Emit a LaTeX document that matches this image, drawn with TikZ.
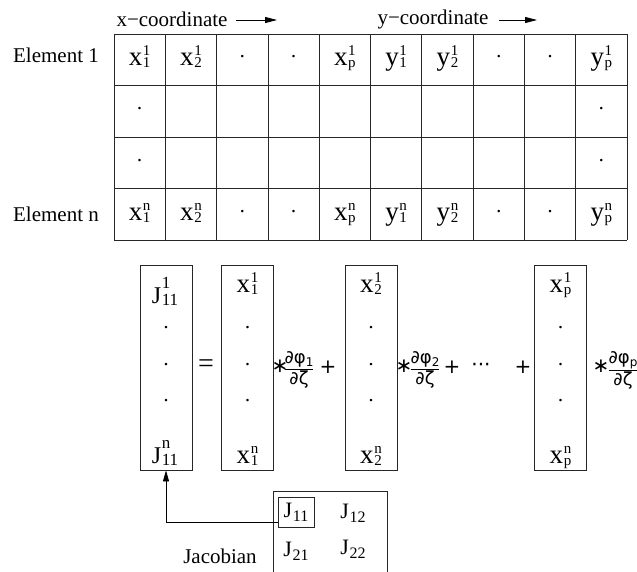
\documentclass[tikz,border=0pt]{standalone}
\usepackage{fontspec}
\setmainfont{Liberation Serif}
\newfontfamily\dejavu{DejaVu Sans}
\usetikzlibrary{arrows.meta,calc}
% #1 base size, #2 letter, #3 sup, #4 sub, #5 sup raise, #6 sub raise, #7 script size
\newcommand\entq[7]{\hbox{\fontsize{#1}{#1}\selectfont #2\kern0.6pt\fontsize{#7}{#7}\selectfont\ooalign{\raisebox{#5}{#3}\cr\raisebox{#6}{#4}\cr}}}
\newcommand\xe[3]{\entq{27}{#1}{#2}{#3}{10pt}{-2pt}{15}}
\newcommand\pfracq[1]{$\displaystyle\frac{\hbox{\dejavu\fontsize{18}{18}\selectfont ∂φ\raisebox{-0.3ex}{\fontsize{12}{12}\selectfont #1}}}{\hbox{\dejavu\fontsize{18}{18}\selectfont ∂ζ}}$}
\begin{document}
\begin{tikzpicture}[x=1pt,y=-1pt,
  lbl/.style={font=\fontsize{21}{25}\selectfont, inner sep=0pt},
  ent/.style={inner sep=0pt, anchor=base},
  dotq/.style={font=\fontsize{21}{25}\selectfont, inner sep=0pt},
  op/.style={font=\dejavu\fontsize{20}{24}\selectfont, inner sep=0pt},
  gridline/.style={draw=black!85, line width=0.8pt},
  colbox/.style={draw=black!85, line width=0.8pt, minimum width=52pt, minimum height=205pt, inner sep=0pt},
  headarrow/.style={line width=0.8pt, -{Triangle[length=12pt,width=6pt]}},
  conn/.style={line width=0.8pt, -{Triangle[length=11pt,width=6pt]}}
]
\useasboundingbox (0,0) rectangle (637,572);

% header
\node[lbl] (xlab) at (172,19) {x−coordinate};
\coordinate (xa1) at (236,20);
\coordinate (xa2) at (277,20);
\draw[headarrow] (xa1) -- (xa2);
\node[lbl] (ylab) at (433,19) {y−coordinate};
\coordinate (ya1) at (499,20);
\coordinate (ya2) at (537,20);
\draw[headarrow] (ya1) -- (ya2);

\node[lbl] (el1) at (56,55) {Element 1};
\node[lbl] (eln) at (56,214) {Element n};

% table grid
\foreach \i in {0,...,10} \draw[gridline] ({114+51.3*\i},34) -- ({114+51.3*\i},240.4);
\foreach \j in {0,...,4} \draw[gridline] (114,{34+51.6*\j}) -- (627,{34+51.6*\j});

% table entries
\foreach \c/\t in {1/{\xe{x}{1}{1}},2/{\xe{x}{1}{2}},5/{\xe{x}{1}{p}},6/{\xe{y}{1}{1}},7/{\xe{y}{1}{2}},10/{\xe{y}{1}{p}}}
  \node[ent] (ra\c) at ({114+51.3*(\c-0.5)},66) {\t};
\foreach \c/\t in {1/{\xe{x}{n}{1}},2/{\xe{x}{n}{2}},5/{\xe{x}{n}{p}},6/{\xe{y}{n}{1}},7/{\xe{y}{n}{2}},10/{\xe{y}{n}{p}}}
  \node[ent] (rd\c) at ({114+51.3*(\c-0.5)},220.5) {\t};
\foreach \c in {3,4,8,9} {
  \node[dotq] (ra\c) at ({114+51.3*(\c-0.5)},59.8) {·};
  \node[dotq] (rd\c) at ({114+51.3*(\c-0.5)},214.6) {·};
}
\foreach \c in {1,10} {
  \node[dotq] (rb\c) at ({114+51.3*(\c-0.5)},111.4) {·};
  \node[dotq] (rc\c) at ({114+51.3*(\c-0.5)},163) {·};
}

% column vectors
\foreach \n/\x in {J/166, A/247.5, B/371, P/560.5}{
  \node[colbox] (col\n) at (\x,367.5) {};
  \node[dotq] (d1\n) at (\x,330) {·};
  \node[dotq] (d2\n) at (\x,367) {·};
  \node[dotq] (d3\n) at (\x,403) {·};
}
\node[ent] (tJ) at (165,303) {\entq{24}{J}{1}{11}{15pt}{-2pt}{17}};
\node[ent] (bJ) at (165,463) {\entq{24}{J}{n}{11}{15pt}{-2pt}{17}};
\node[ent] (tA) at (247.5,292) {\xe{x}{1}{1}};
\node[ent] (bA) at (247.5,463) {\xe{x}{n}{1}};
\node[ent] (tB) at (371,292) {\xe{x}{1}{2}};
\node[ent] (bB) at (371,463) {\xe{x}{n}{2}};
\node[ent] (tP) at (560.5,292) {\xe{x}{1}{p}};
\node[ent] (bP) at (560.5,463) {\xe{x}{n}{p}};

% operators
\node[inner sep=0pt, font=\fontsize{28}{30}\selectfont] (eq) at (206,366) {=};
\node[op] (s1) at (280,366) {∗};
\node[inner sep=0pt] (f1) at (299,370) {\pfracq{1}};
\node[op] (p1) at (328,367) {+};
\node[op] (s2) at (404,366) {∗};
\node[inner sep=0pt] (f2) at (425,370) {\pfracq{2}};
\node[op] (p2) at (452,367) {+};
\node[op] (dd) at (481,367) {···};
\node[op] (p3) at (523,367) {+};
\node[op] (s3) at (601,366) {∗};
\node[inner sep=0pt] (f3) at (623,370) {\pfracq{p}};

% Jacobian
\coordinate (jbl) at (273,572);
\coordinate (jtl) at (273,491);
\coordinate (jtr) at (387,491);
\coordinate (jbr) at (387,572);
\draw[gridline] (jbl) -- (jtl) -- (jtr) -- (jbr);
\node[draw=black!85, line width=0.8pt, minimum width=36pt, minimum height=30pt, inner sep=0pt] (J11) at (296,512) {\entq{22}{J}{}{11}{0pt}{-4pt}{16}};
\node[ent] (J12) at (353,518) {\entq{22}{J}{}{12}{0pt}{-4pt}{16}};
\node[ent] (J21) at (296,556) {\entq{22}{J}{}{21}{0pt}{-4pt}{16}};
\node[ent] (J22) at (353,554) {\entq{22}{J}{}{22}{0pt}{-4pt}{16}};
\node[lbl] (jac) at (220,556) {Jacobian};

\draw[conn] ([yshift=-10pt]J11.west) -| (colJ.south);
\end{tikzpicture}
\end{document}
